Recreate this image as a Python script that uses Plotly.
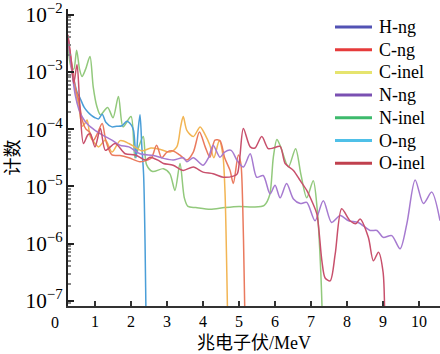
import numpy as np
import plotly.graph_objects as go

# ---- data (energy in MeV, counts given as log10 exponents) ----
h_ng_x = [0.25, 0.35, 0.45, 0.55]
h_ng_log = [-2.4, -2.9, -3.3, -3.6]

c_ng_x = [0.25, 0.35, 0.45, 0.55, 0.65, 0.75, 0.85, 0.95, 1.05, 1.2, 1.3, 1.47, 1.69, 1.94, 2.25,
          2.45, 2.57, 2.71, 2.85, 3.0, 3.17, 3.35, 3.55, 3.73, 3.9, 4.06, 4.19, 4.33, 4.47, 4.6,
          4.75, 4.84, 4.98, 5.05, 5.1, 5.14, 5.18, 5.2]
c_ng_log = [-2.4, -2.85, -3.26, -3.5, -3.85, -4.0, -4.05, -4.2, -4.1, -3.9, -4.2, -4.45, -4.46, -4.5, -4.57,
            -4.54, -4.5, -4.28, -4.5, -4.4, -4.38, -4.45, -4.54, -4.4, -4.05, -4.31, -4.49, -4.19, -4.2, -4.5,
            -4.72, -4.95, -4.45, -4.6, -5.3, -6.5, -8.0, -9.0]

c_inel_x = [0.25, 0.35, 0.45, 0.55, 0.65, 0.72, 0.78, 0.87, 1.0, 1.1, 1.29, 1.47, 1.7, 1.94, 2.15,
            2.31, 2.55, 2.8, 3.08, 3.27, 3.38, 3.45, 3.55, 3.73, 3.92, 4.06, 4.19, 4.3, 4.45, 4.55,
            4.61, 4.66, 4.7, 4.72]
c_inel_log = [-2.4, -2.95, -3.3, -3.6, -3.95, -3.9, -3.84, -4.13, -4.25, -4.31, -4.19, -4.4, -4.2, -4.25, -4.33,
              -4.38, -4.33, -4.35, -4.4, -4.31, -3.95, -3.78, -4.02, -4.13, -3.96, -4.1, -4.28, -4.5, -4.2, -4.45,
              -5.1, -6.5, -8.0, -9.0]

n_ng_x = [0.25, 0.35, 0.45, 0.55, 0.64, 0.8, 1.0, 1.2, 1.47, 1.69, 1.94, 2.25, 2.62, 2.9, 3.17,
          3.45, 3.55, 3.73, 4.0, 4.15, 4.28, 4.47, 4.6, 4.78, 4.95, 5.12, 5.31, 5.49, 5.67, 5.86,
          6.0, 6.14, 6.32, 6.51, 6.7, 6.88, 7.11, 7.34, 7.57, 7.81, 8.04, 8.31, 8.64, 8.83, 9.0,
          9.24, 9.47, 9.66, 9.89, 10.12, 10.35, 10.58]
n_ng_log = [-2.4, -2.95, -3.4, -3.65, -3.78, -3.92, -4.02, -4.1, -4.19, -4.28, -4.31, -4.43, -4.46, -4.51, -4.54,
            -4.5, -4.57, -4.5, -4.63, -4.5, -4.28, -4.49, -4.4, -4.37, -4.55, -4.66, -4.43, -4.84, -4.81, -5.13,
            -4.98, -5.2, -4.95, -5.22, -5.3, -5.28, -5.6, -5.25, -5.63, -5.51, -5.6, -5.63, -5.77, -5.77, -5.89,
            -5.86, -6.09, -5.65, -4.89, -5.3, -5.1, -5.6]

n_inel_x = [0.25, 0.33, 0.41, 0.49, 0.57, 0.64, 0.74, 0.86, 0.95, 1.05, 1.15, 1.35, 1.5, 1.65, 1.78,
            2.0, 2.11, 2.22, 2.34, 2.43, 2.6, 2.9, 3.08, 3.22, 3.36, 3.48, 3.58, 3.8, 4.2, 4.6,
            5.0, 5.4, 5.7, 5.85, 5.95, 6.05, 6.15, 6.37, 6.57, 6.72, 6.88, 7.06, 7.17, 7.27, 7.32, 7.36]
n_inel_log = [-2.5, -2.9, -2.95, -2.62, -2.95, -3.08, -2.95, -2.73, -3.26, -3.6, -3.75, -3.62, -3.8, -3.43, -3.96,
              -3.78, -4.5, -4.3, -4.13, -4.62, -4.74, -4.69, -4.78, -5.07, -4.6, -5.2, -5.35, -5.37, -5.4, -5.37,
              -5.35, -5.36, -5.33, -5.15, -4.5, -4.18, -4.3, -4.66, -4.34, -4.8, -5.2, -4.9, -5.4, -6.5, -7.5, -9.0]

o_ng_x = [0.25, 0.33, 0.42, 0.5, 0.58, 0.7, 0.8, 0.9, 1.0, 1.1, 1.2, 1.3, 1.47, 1.6, 1.75,
          1.88, 2.0, 2.07, 2.14, 2.2, 2.25, 2.3, 2.35, 2.39, 2.42, 2.45]
o_ng_log = [-2.4, -2.85, -3.15, -3.35, -3.45, -3.62, -3.7, -3.76, -3.8, -3.82, -3.74, -3.88, -3.96, -3.95, -3.94,
            -3.86, -3.92, -4.02, -4.5, -4.0, -3.75, -4.3, -4.8, -6.0, -7.5, -9.0]

o_inel_x = [0.25, 0.35, 0.41, 0.5, 0.58, 0.68, 0.8, 0.87, 1.0, 1.15, 1.29, 1.56, 1.84, 2.12, 2.4,
            2.53, 2.77, 2.9, 3.17, 3.45, 3.73, 4.0, 4.28, 4.56, 4.84, 4.95, 5.02, 5.12, 5.31, 5.44,
            5.63, 5.81, 5.95, 6.14, 6.28, 6.51, 6.7, 6.88, 7.05, 7.16, 7.3, 7.39, 7.53, 7.67, 7.85,
            8.08, 8.25, 8.36, 8.59, 8.73, 8.87, 9.0, 9.05, 9.08]
o_inel_log = [-2.35, -2.85, -3.2, -2.87, -3.6, -4.25, -4.1, -4.08, -4.31, -3.99, -4.37, -4.25, -4.43, -4.45, -4.54,
              -4.49, -4.55, -4.6, -4.63, -4.72, -4.66, -4.75, -4.78, -4.84, -4.82, -4.78, -4.5, -3.99, -4.31, -4.33,
              -4.13, -4.34, -4.33, -4.3, -4.6, -4.72, -4.9, -5.07, -5.3, -5.48, -6.3, -6.6, -6.65, -6.18, -5.39,
              -5.6, -5.65, -5.57, -5.89, -6.3, -6.15, -6.5, -7.5, -9.0]

names = ["H-ng", "C-ng", "C-inel", "N-ng", "N-inel", "O-ng", "O-inel"]
legend_colors = ["#5252b4", "#e63b3b", "#e6e46e", "#7a50b2", "#3dba6c", "#4fc0e8", "#c0404e"]
line_colors = ["#7070c0", "#ea7a5e", "#f2b554", "#a67ad0", "#92c97c", "#4a9ed8", "#c8506c"]
series = [(h_ng_x, h_ng_log), (c_ng_x, c_ng_log), (c_inel_x, c_inel_log), (n_ng_x, n_ng_log),
          (n_inel_x, n_inel_log), (o_ng_x, o_ng_log), (o_inel_x, o_inel_log)]
draw_order = [0, 4, 5, 2, 1, 3, 6]

fig = go.Figure()
for i in draw_order:
    xs, lg = series[i]
    fig.add_trace(go.Scatter(x=xs, y=10 ** np.array(lg), mode="lines", name=names[i], showlegend=False,
                             line=dict(color=line_colors[i], width=1.5, shape="spline", smoothing=0.8),
                             hoverinfo="skip"))

# ---- hand-placed legend (compact spacing like the reference) ----
plot_top, plot_bottom = 9, 306
leg_x0, leg_x1, leg_text_x = (335 - 68) / 372, (372 - 68) / 372, (377 - 68) / 372
leg_top_px, leg_step_px = 27, 22.7
shapes, annotations = [], []
for k, n in enumerate(names):
    yp = (plot_bottom - (leg_top_px + k * leg_step_px)) / (plot_bottom - plot_top)
    shapes.append(dict(type="line", xref="paper", yref="paper", x0=leg_x0, x1=leg_x1, y0=yp, y1=yp,
                       line=dict(color=legend_colors[k], width=3)))
    annotations.append(dict(x=leg_text_x, y=yp, xref="paper", yref="paper", xanchor="left", yanchor="middle",
                            text=n, showarrow=False, font=dict(size=18, family="Liberation Serif")))

annotations.append(dict(x=(55 - 68) / 372, xref="paper", xanchor="center",
                        y=0, yref="paper", yanchor="top", yshift=-6,
                        text="0", showarrow=False, font=dict(size=16, family="Liberation Serif")))

fig.update_layout(
    width=440, height=354,
    margin=dict(l=68, r=0, t=9, b=48),
    plot_bgcolor="white", paper_bgcolor="white",
    font=dict(family="Liberation Serif, Noto Sans CJK SC", size=16, color="black"),
    showlegend=False,
    xaxis=dict(range=[0.25, 10.58], tickvals=list(range(1, 11)), ticks="inside", ticklen=5, tickwidth=1.5,
               tickcolor="#333", showline=True, linecolor="#333", linewidth=2, showgrid=False, zeroline=False,
               tickfont=dict(size=16),
               title=dict(text="兆电子伏/MeV", font=dict(size=18), standoff=7)),
    yaxis=dict(type="log", range=[-7.09, -1.9], dtick=1, exponentformat="power", ticks="inside",
               ticklen=6, tickwidth=1.5, tickcolor="#222", showline=True, linecolor="#222", linewidth=2,
               showgrid=False, zeroline=False, tickfont=dict(size=17),
               minor=dict(ticks="inside", ticklen=3, tickcolor="#888", showgrid=False),
               title=dict(text="计数", font=dict(size=18), standoff=1)),
    shapes=shapes,
    annotations=annotations,
)
fig.write_html("out.html")
